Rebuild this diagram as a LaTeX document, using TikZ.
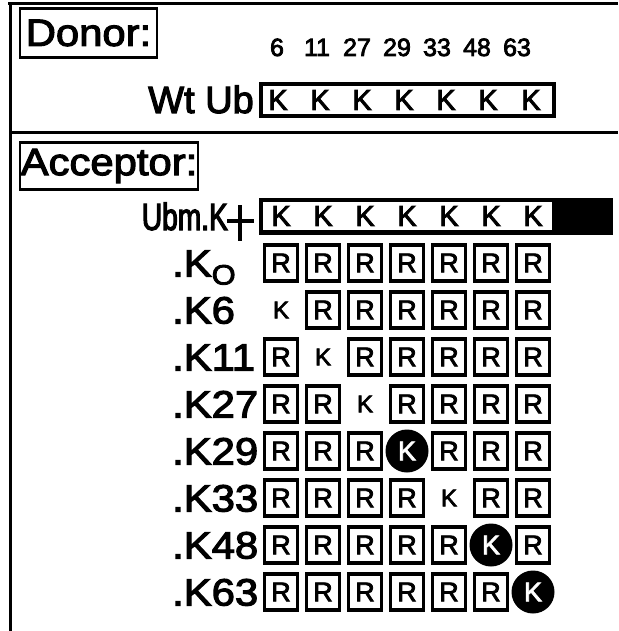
\documentclass[tikz,border=0pt]{standalone}
\usepackage{fontspec}
\setmainfont{Liberation Sans}[FakeBold=3]
\newfontfamily\widefont{Liberation Sans}[FakeBold=3,FakeStretch=1.1]
\newfontfamily\narrowfont{Liberation Sans}[FakeBold=3,FakeStretch=0.74]
\begin{document}
\begin{tikzpicture}[x=1pt,y=-1pt,
  rbox/.style={draw,line width=3.2pt,minimum width=33pt,minimum height=36pt,inner sep=0pt,font=\fontsize{27}{27}\selectfont},
  kdot/.style={circle,fill=black,text=white,minimum size=43pt,inner sep=0pt,font=\fontsize{27}{27}\selectfont},
  kfree/.style={inner sep=0pt,font=\fontsize{24}{24}\selectfont},
  rowlab/.style={anchor=base west,inner sep=0pt,font=\widefont\fontsize{38}{38}\selectfont},
  head/.style={draw,line width=2.5pt,inner sep=0pt,font=\widefont\fontsize{38}{38}\selectfont},
  num/.style={anchor=base,inner sep=0pt,font=\fontsize{25}{25}\selectfont},
  kbar/.style={inner sep=0pt,font=\fontsize{29}{29}\selectfont},
  frameline/.style={line width=3pt}]
\useasboundingbox (0,0) rectangle (618,631);
% frame
\draw[frameline] (8,4) -- (618,4);
\draw[frameline] (10,4) -- (10,631);
\draw[frameline] (10,133) -- (618,133);
% headings
\node[head,minimum width=137pt,minimum height=49pt] (donor) at (88.5,33) {Donor:};
\node[head,minimum width=178pt,minimum height=47pt] (acceptor) at (109,166) {Acceptor:};
% donor row
\node[anchor=base east,inner sep=0pt,font=\fontsize{38}{38}\selectfont] (wtub) at (254,113) {Wt Ub};
\node[draw,line width=4pt,minimum width=293pt,minimum height=32pt,inner sep=0pt] (wtbox) at (407,100) {};
\foreach \n/\x [count=\j] in {6/277,11/317,27/357,29/397,33/437,48/477,63/517}
  \node[num] (n\j) at (\x,56) {\n};
\foreach \x [count=\j] in {278,320,362,404,446,488,531}
  \node[kbar] (wk\j) at (\x,100) {K};
% acceptor Ubm bar
\node[fill=black,minimum width=354pt,minimum height=37pt,inner sep=0pt] (ubmbar) at (436,216) {};
\node[fill=white,minimum width=289pt,minimum height=28pt,inner sep=0pt] (ubmwhite) at (407.5,216) {};
\foreach \x [count=\j] in {281,323,365,407,449,491,533}
  \node[kbar] (uk\j) at (\x,216) {K};
\node[anchor=base east,inner sep=0pt,font=\narrowfont\fontsize{38}{38}\selectfont] (ubm) at (228,230) {Ubm.K};
\coordinate (plusL) at (227,221);
\coordinate (plusR) at (254,221);
\coordinate (plusT) at (240,205);
\coordinate (plusB) at (240,241);
\draw[line width=4.5pt] (plusL) -- (plusR);
\draw[line width=4.5pt] (plusT) -- (plusB);
% row labels
\node[rowlab] (l0) at (172,276.5) {.K\raisebox{-8pt}{\fontsize{28}{28}\selectfont O}};
\foreach \t/\y [count=\i] in {6/310,11/357,27/404,29/451,33/498,48/545,63/592}
  \node[rowlab] (l\i) at (172,\y+13.5) {.K\t};
% grid
\foreach \y/\s/\k [count=\i] in {263/0/0,310/1/1,357/2/1,404/3/1,451/4/2,498/5/1,545/6/2,592/7/2} {
  \foreach \x [count=\j] in {281,323,365,407,449,491,533} {
    \ifnum\j=\s
      \ifnum\k=1
        \node[kfree] (c\i-\j) at (\x,\y) {K};
      \else
        \node[kdot] (c\i-\j) at (\x,\y) {K};
      \fi
    \else
      \node[rbox] (c\i-\j) at (\x,\y) {R};
    \fi
  }
}
\end{tikzpicture}
\end{document}
